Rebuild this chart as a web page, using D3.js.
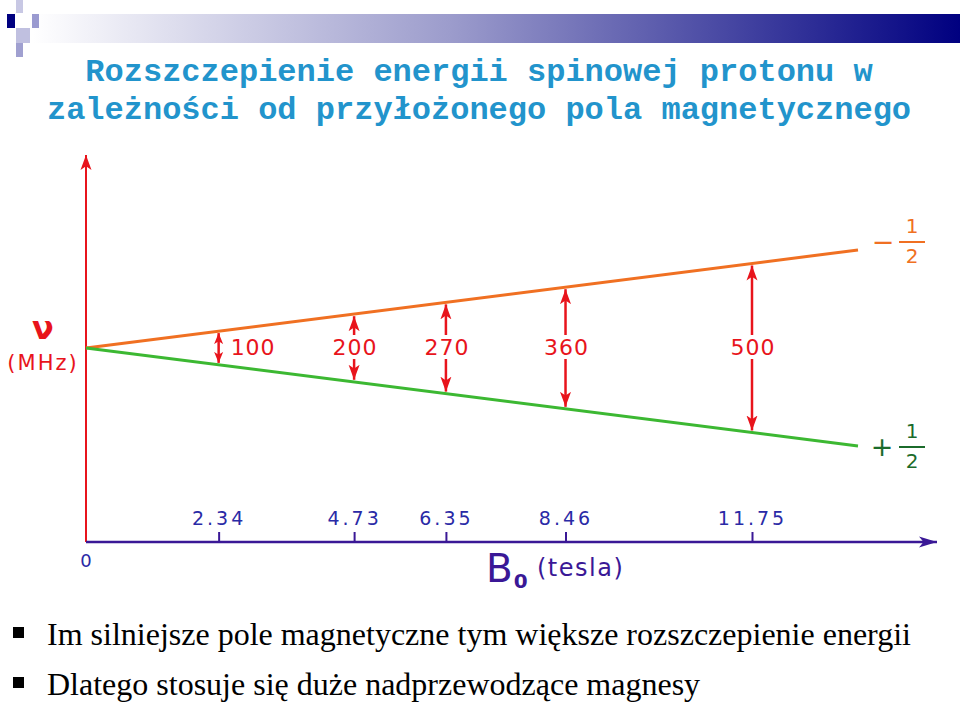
<!DOCTYPE html>
<html>
<head>
<meta charset="utf-8">
<script src="https://cdn.jsdelivr.net/npm/d3@7"></script>
<style>
  body { margin: 0; background: #fff; }
  svg { display: block; }
</style>
</head>
<body>
<script>

// values
var fields = [2.34, 4.73, 6.35, 8.46, 11.75];          // B0 in tesla
var fieldLabels = ["2.34", "4.73", "6.35", "8.46", "11.75"];
var splits = [100, 200, 270, 360, 500];                 // MHz
var lineB = [0, 13.62];                                 // ends of the two level lines
var lineSplit = [0, 580];
var titleLines = ["Rozszczepienie energii spinowej protonu w",
                  "zależności od przyłożonego pola magnetycznego"];
var bullets = ["Im silniejsze pole magnetyczne tym większe rozszczepienie energii",
               "Dlatego stosuje się duże nadprzewodzące magnesy"];

var W = 960, H = 702;
var red = "#e8141c", orange = "#f07022", green = "#3cb832", axisCol = "#3a1896", tickCol = "#2a2aa6";

var svg = d3.select("body").append("svg").attr("width", W).attr("height", H);
var defs = svg.append("defs");

// header decoration
var grad = defs.append("linearGradient").attr("id", "hdr");
grad.append("stop").attr("offset", "0%").attr("stop-color", "#ffffff");
grad.append("stop").attr("offset", "45%").attr("stop-color", "#9c9ccc");
grad.append("stop").attr("offset", "100%").attr("stop-color", "#000080");
svg.append("rect").attr("x", 33).attr("y", 14).attr("width", W - 33).attr("height", 29).attr("fill", "url(#hdr)");
var sq = [[7, 14, 8, 14, "#000080"], [16, 0, 7, 13, "#c8c8e4"], [32, 14, 7, 14, "#9a9ad0"],
          [16, 28, 14, 15, "#c0c0e0"], [16, 43, 7, 14, "#a0a0d0"]];
svg.selectAll(".sq").data(sq).enter().append("rect")
    .attr("x", function(d) { return d[0]; }).attr("y", function(d) { return d[1]; })
    .attr("width", function(d) { return d[2]; }).attr("height", function(d) { return d[3]; })
    .attr("fill", function(d) { return d[4]; });

// title
svg.selectAll(".title").data(titleLines).enter().append("text")
    .attr("x", 479).attr("y", function(d, i) { return 81 + i * 38; })
    .attr("text-anchor", "middle")
    .style("font-family", "'Liberation Mono', 'DejaVu Sans Mono', monospace")
    .style("font-weight", "bold").style("font-size", "32px")
    .attr("fill", "#2294cc")
    .text(function(d) { return d; });

var x = d3.scaleLinear().domain([0, 11.75]).range([86, 752]),
    y = d3.scaleLinear().domain([-300, 300]).range([449.4, 246.6]);
var x0 = x(0), yAxis = 542;

// arrow markers
function marker(id, col, w, l) {
  defs.append("marker").attr("id", id)
      .attr("markerUnits", "userSpaceOnUse")
      .attr("markerWidth", l + 2).attr("markerHeight", w + 2)
      .attr("viewBox", "0 " + (-w / 2 - 1) + " " + (l + 2) + " " + (w + 2))
      .attr("refX", l).attr("refY", 0).attr("orient", "auto-start-reverse")
      .append("path")
      .attr("d", "M0," + (-w / 2) + "L" + l + ",0L0," + (w / 2) + "L" + (l * 0.25) + ",0Z")
      .attr("fill", col);
}
marker("ar", red, 11, 15);
marker("ars", red, 9, 11);
marker("ax", axisCol, 11, 18);

// axes
svg.append("line").attr("x1", x0).attr("x2", x0).attr("y1", yAxis).attr("y2", 155)
    .attr("stroke", red).attr("stroke-width", 2).attr("marker-end", "url(#ar)");
svg.append("line").attr("x1", x0).attr("x2", 937).attr("y1", yAxis).attr("y2", yAxis)
    .attr("stroke", axisCol).attr("stroke-width", 2.5).attr("marker-end", "url(#ax)");

var g = svg.append("g").attr("transform", "translate(0," + yAxis + ")");
g.call(d3.axisTop(x).tickValues(fields).tickSize(10).tickFormat(function(d, i) { return fieldLabels[i]; }));
g.select(".domain").remove();
g.selectAll(".tick line").attr("stroke", axisCol).attr("stroke-width", 2);
g.selectAll(".tick text").attr("fill", tickCol)
    .style("font-family", "'DejaVu Sans', Verdana, sans-serif").style("font-size", "19px")
    .style("letter-spacing", "3px").attr("y", -17).attr("dy", 0);

svg.append("text").attr("x", x0).attr("y", 567).attr("text-anchor", "middle")
    .attr("fill", tickCol).style("font-family", "'DejaVu Sans', sans-serif").style("font-size", "18px").text("0");

// axis titles
var bl = svg.append("text").attr("x", 486).attr("y", 582).attr("fill", axisCol)
    .style("font-family", "'DejaVu Sans', Verdana, sans-serif");
bl.append("tspan").style("font-size", "39px").text("B");
bl.append("tspan").attr("dy", 6).attr("dx", 1).style("font-size", "20px").style("font-weight", "bold").text("0");
svg.append("text").attr("x", 537).attr("y", 576).attr("fill", axisCol)
    .style("font-family", "'DejaVu Sans', Verdana, sans-serif").style("font-size", "24px")
    .style("letter-spacing", "1.5px").text("(tesla)");

svg.append("text").attr("x", 43).attr("y", 339).attr("text-anchor", "middle").attr("fill", red)
    .style("font-family", "'DejaVu Sans', sans-serif").style("font-weight", "bold").style("font-size", "32px").text("ν");
svg.append("text").attr("x", 43).attr("y", 370).attr("text-anchor", "middle").attr("fill", red)
    .style("font-family", "'DejaVu Sans', sans-serif").style("font-size", "21px")
    .style("letter-spacing", "2px").text("(MHz)");

// level lines
var line = d3.line().x(function(d) { return x(d[0]); }).y(function(d) { return y(d[1]); });
var upper = lineB.map(function(b, i) { return [b, lineSplit[i] / 2]; });
var lower = lineB.map(function(b, i) { return [b, -lineSplit[i] / 2]; });
svg.append("path").datum(upper).attr("d", line).attr("fill", "none").attr("stroke", orange).attr("stroke-width", 3);
svg.append("path").datum(lower).attr("d", line).attr("fill", "none").attr("stroke", green).attr("stroke-width", 3);

// splitting arrows
var labY = 347;
fields.forEach(function(b, i) {
  var xa = x(b), yt = y(splits[i] / 2) + 2, yb = y(-splits[i] / 2) - 2;
  var lab = svg.append("text").attr("fill", red)
      .style("font-family", "'DejaVu Sans', Verdana, sans-serif").style("font-size", "22px")
      .style("letter-spacing", "1px")
      .attr("y", labY + 8).text(splits[i]);
  if (i === 0) {
    lab.attr("x", xa + 12);
    svg.append("line").attr("x1", xa).attr("x2", xa).attr("y1", yb).attr("y2", yt)
        .attr("stroke", red).attr("stroke-width", 2.5)
        .attr("marker-start", "url(#ars)").attr("marker-end", "url(#ars)");
  } else {
    lab.attr("x", xa + 1).attr("text-anchor", "middle");
    svg.append("line").attr("x1", xa).attr("x2", xa).attr("y1", labY - 12).attr("y2", yt)
        .attr("stroke", red).attr("stroke-width", 2.5).attr("marker-end", "url(#ar)");
    svg.append("line").attr("x1", xa).attr("x2", xa).attr("y1", labY + 12).attr("y2", yb)
        .attr("stroke", red).attr("stroke-width", 2.5).attr("marker-end", "url(#ar)");
  }
});

// spin labels
function spin(sign, col, yc) {
  var f = svg.append("g").attr("fill", col).style("font-family", "'DejaVu Sans', sans-serif");
  f.append("text").attr("x", sign === "+" ? 882 : 883).attr("y", yc + 9).attr("text-anchor", "middle")
      .style("font-size", "27px").text(sign === "+" ? "+" : "−");
  f.append("text").attr("x", 912).attr("y", yc - 9).attr("text-anchor", "middle").style("font-size", "20px").text("1");
  f.append("text").attr("x", 912).attr("y", yc + 21).attr("text-anchor", "middle").style("font-size", "20px").text("2");
  f.append("rect").attr("x", 899).attr("y", yc - 1).attr("width", 26).attr("height", 2);
}
spin("−", orange, 242);
spin("+", "#1b6b2b", 447);

// bullets
svg.selectAll(".bsq").data(bullets).enter().append("rect")
    .attr("x", 13).attr("y", function(d, i) { return 627 + i * 50; })
    .attr("width", 11).attr("height", 11).attr("fill", "#000");
svg.selectAll(".btx").data(bullets).enter().append("text")
    .attr("x", 47).attr("y", function(d, i) { return 645 + i * 50; })
    .style("font-family", "'Liberation Serif', 'Times New Roman', serif").style("font-size", "32px")
    .attr("fill", "#000").text(function(d) { return d; });

</script>
</body>
</html>
